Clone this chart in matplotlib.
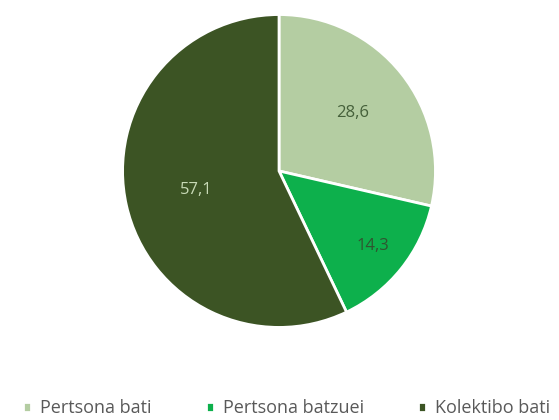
import matplotlib.pyplot as plt
import numpy as np

# datuak
labels = ['Pertsona bati', 'Pertsona batzuei', 'Kolektibo bati']
values = [28.6, 14.3, 57.1]
colors = ['#B4CDA2', '#0DB04C', '#3C5424']
text_colors = ['#45603A', '#2F5530', '#C8DAB6']
label_dist = [0.6, 0.77, 0.54]

plt.rcParams['font.family'] = ['Open Sans', 'DejaVu Sans']

fig = plt.figure(figsize=(5.59, 4.2), dpi=100)
ax = fig.add_axes([0.2165, 0.2167, 0.5653, 0.7524])

wedges, texts = ax.pie(values, colors=colors, startangle=90, counterclock=False,
                       wedgeprops=dict(edgecolor='white', linewidth=2))

for i, w in enumerate(wedges):
    ang = np.deg2rad((w.theta1 + w.theta2) / 2)
    ax.text(label_dist[i] * np.cos(ang), label_dist[i] * np.sin(ang),
            f'{values[i]:.1f}'.replace('.', ','), ha='center', va='center',
            fontsize=12, color=text_colors[i])
ax.set_xlim(-1.01, 1.01)
ax.set_ylim(-1.01, 1.01)
ax.set_aspect('equal')

fig.legend(wedges, labels, loc='center', bbox_to_anchor=(0.513, 0.028), ncol=3,
           frameon=False, fontsize=13, handlelength=0.45, handleheight=0.45,
           handletextpad=0.5, columnspacing=3.0, labelcolor='#595959')

fig.savefig('out.png', dpi=100)
